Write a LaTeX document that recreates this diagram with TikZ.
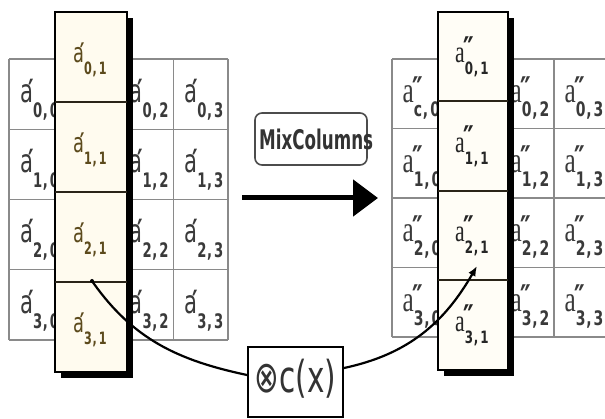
\documentclass[tikz,border=0pt]{standalone}
\usepackage{fontspec}
\usepackage{graphicx}
\setmainfont{DejaVu Sans}
\newfontfamily\serifa{Liberation Serif}
\usetikzlibrary{arrows.meta}
\definecolor{gridc}{HTML}{8A8A8A}
\definecolor{lbltxt}{HTML}{3A3A3A}
\definecolor{boxtxt}{HTML}{5C4A1C}
\definecolor{creamL}{HTML}{FFFBEF}
\definecolor{creamR}{HTML}{FFFDF6}
\definecolor{sepc}{HTML}{2A2418}
% subscript: size, drop, row, col
\newcommand{\subsc}[4]{\raisebox{-#2}{\fontsize{#1}{#1}\selectfont\bfseries #3\kern1pt,\kern3pt#4}}
% sans a with prime: a-size, sub-size, drop, row, col
\newcommand{\lblP}[5]{\scalebox{0.66}[1]{\fontsize{#1}{#1}\selectfont a\kern-0.24em\rlap{\bfseries ′}\kern0.24em\subsc{#2}{#3}{#4}{#5}}}
% serif a with double prime
\newcommand{\lblQ}[5]{\scalebox{0.7}[1]{{\serifa\fontsize{#1}{#1}\selectfont a}\kern-0.24em\rlap{\raisebox{1.5pt}{\fontsize{34}{34}\selectfont\bfseries ″}}\kern0.24em\subsc{#2}{#3}{#4}{#5}}}
\begin{document}
\begin{tikzpicture}[x=1pt,y=-1pt,
  gridline/.style={draw=gridc,line width=1.4pt},
  lbl/.style={anchor=base west,inner sep=0pt,text=lbltxt},
  boxlbl/.style={anchor=base west,inner sep=0pt,text=boxtxt},
  boxlblR/.style={anchor=base west,inner sep=0pt,text=black!85},
  colbox/.style={line width=2pt,draw=black},
  shadow/.style={fill=black},
  sep/.style={draw=sepc,line width=2pt}]
\useasboundingbox (0,0) rectangle (605,419);
\clip (0,0) rectangle (605,419);
\fill[white] (0,0) rectangle (605,419);
% ---------- left grid ----------
\foreach \i in {0,...,4}{
  \draw[gridline] ({9+\i*54.75},59) -- ({9+\i*54.75},340);
  \draw[gridline] (9,{59+\i*70.25}) -- (228,{59+\i*70.25});
}
\foreach \r in {0,...,3}{
  \foreach \c in {0,2,3}{
    \node[lbl] (L-\r-\c) at ({9+\c*54.75+11},{59+\r*70.25+43.5}) {\lblP{32}{20}{15pt}{\r}{\c}};
  }
}
% ---------- right grid ----------
\foreach \i in {0,...,4}{
  \draw[gridline] ({392+\i*54},59) -- ({392+\i*54},337);
  \draw[gridline] (392,{59+\i*69.5}) -- (608,{59+\i*69.5});
}
\foreach \r in {1,...,3}{
  \foreach \c in {0,2,3}{
    \node[lbl] (R-\r-\c) at ({392+\c*54+10.5},{59+\r*69.5+44}) {\lblQ{36}{20}{14pt}{\r}{\c}};
  }
}
\node[lbl] (R-0-0) at (402.5,103) {\lblQ{36}{20}{14pt}{c}{0}};
\node[lbl] (R-0-2) at ({392+2*54+10.5},103) {\lblQ{36}{20}{14pt}{0}{2}};
\node[lbl] (R-0-3) at ({392+3*54+10.5},103) {\lblQ{36}{20}{14pt}{0}{3}};
% ---------- left column box ----------
\fill[shadow] (61,18) rectangle (133,378);
\filldraw[colbox,fill=creamL] (55,12) rectangle (127,372);
\foreach \k in {1,2,3}{
  \draw[sep] (55,{12+\k*90}) -- (127,{12+\k*90});
}
\foreach \r in {0,...,3}{
  \node[boxlbl] (LB-\r) at (73,{12+\r*90+51}) {\lblP{27}{17}{12pt}{\r}{1}};
}
% ---------- right column box ----------
\fill[shadow] (444,18) rectangle (514,376);
\filldraw[colbox,fill=creamR] (438,12) rectangle (508,370);
\foreach \k in {1,2,3}{
  \draw[sep] (438,{12+\k*89.5}) -- (508,{12+\k*89.5});
}
\foreach \r in {0,...,3}{
  \node[boxlblR] (RB-\r) at (455,{12+\r*89.5+51}) {\lblQ{31}{17}{12pt}{\r}{1}};
}
% ---------- MixColumns ----------
\node[draw=black!70,line width=1.6pt,rounded corners=7pt,minimum width=112pt,minimum height=52pt,inner sep=0pt] (mixbox) at (311,139) {};
\node[anchor=west,inner sep=0pt,text=black!80] (mixtxt) at (259,139) {\scalebox{0.62}[1]{\fontsize{27}{27}\selectfont\bfseries MixColumns}};
\coordinate (arrS) at (242,198);
\coordinate (arrE) at (378,198);
\draw[line width=5pt,-{Triangle[length=25pt,width=36pt]}] (arrS) -- (arrE);
% ---------- c(x) ----------
\node[draw=black,line width=2pt,fill=white,minimum width=95pt,minimum height=70pt,inner sep=0pt] (cx) at (295.5,382) {};
\node[inner sep=0pt,text=black!80] (cxt) at (295.5,379) {\scalebox{0.67}[1]{\fontsize{44}{44}\selectfont ⊗c(x)}};
% ---------- curve ----------
\coordinate (cs) at (92,281);
\coordinate (ct) at (477,266);
\fill (cs) circle (2);
\draw[line width=2.2pt] (cs) to[out=-55,in=168] ([yshift=7pt]cx.west);
\draw[line width=2.2pt,-{Latex[length=10pt,width=8pt]}] ([yshift=14pt]cx.east) to[out=12,in=-120] (ct);
\end{tikzpicture}
\end{document}
